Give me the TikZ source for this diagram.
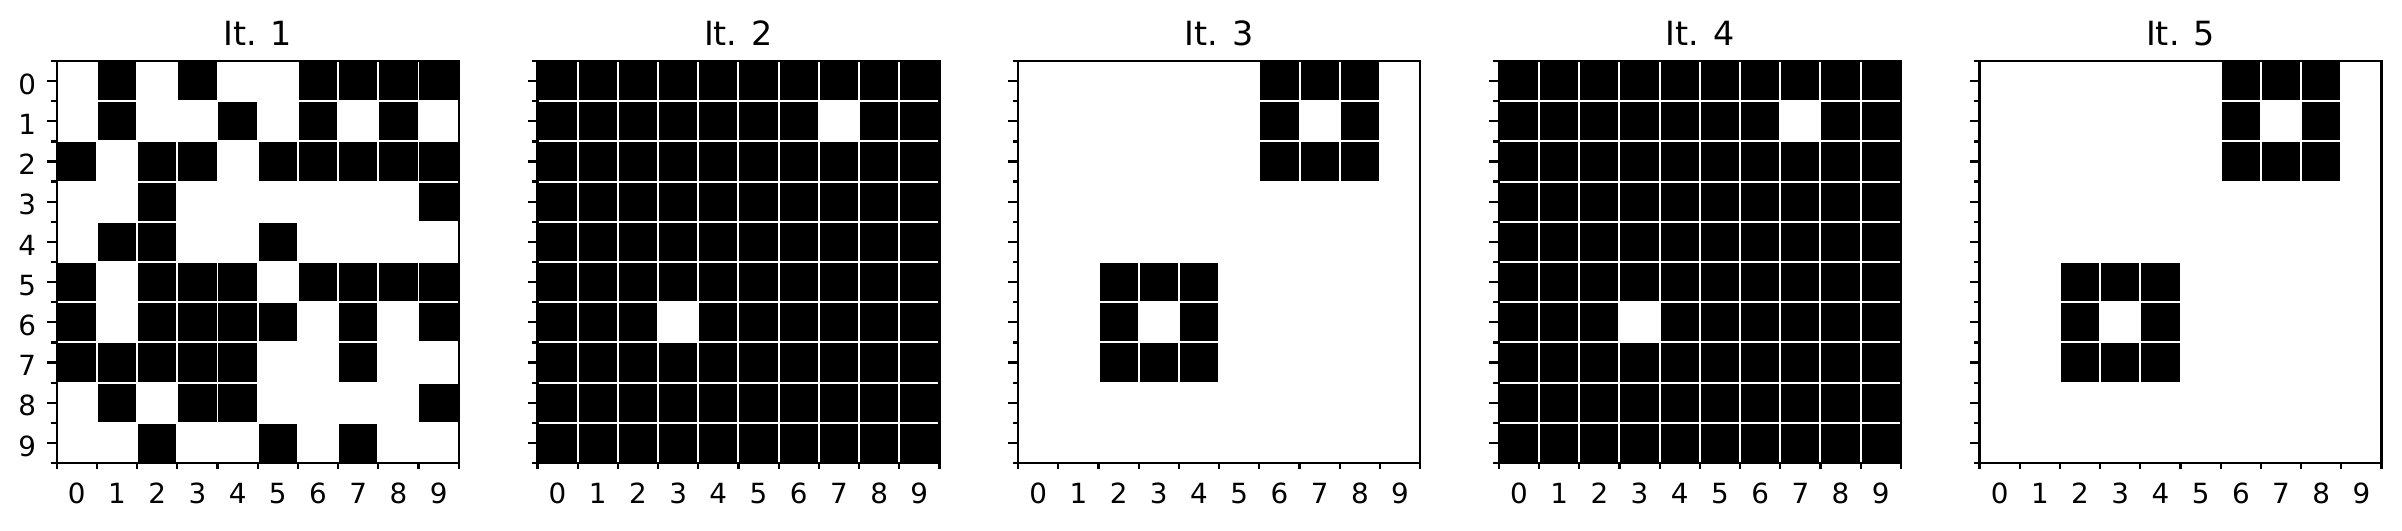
\documentclass[tikz,border=0pt]{standalone}
\usepackage{fontspec}
\setmainfont{DejaVu Sans}
\usetikzlibrary{positioning, calc}

\begin{document}
\begin{tikzpicture}[x=14.472pt, y=-14.472pt,
    cell/.style={fill=black},
    hole/.style={fill=white},
    gridline/.style={white, line width=0.7pt},
    frame/.style={black, line width=0.8pt},
    axtick/.style={black, line width=0.8pt},
    ticklabel/.style={font=\fontsize{10}{12}\selectfont, inner sep=0pt},
    paneltitle/.style={font=\fontsize{12}{14}\selectfont, inner sep=0pt}]
        \useasboundingbox (0pt,0pt) rectangle (864.72pt,-190.8pt);
%
        % It. 1
        \begin{scope}[shift={(1.4104,1.5174)}]
          \foreach \r/\cols in {0/{1,3,6,7,8,9}, 1/{1,4,6,8}, 2/{0,2,3,5,6,7,8,9},
              3/{2,9}, 4/{1,2,5}, 5/{0,2,3,4,6,7,8,9}, 6/{0,2,3,4,5,7,9},
              7/{0,1,2,3,4,7}, 8/{1,3,4,9}, 9/{2,5,7}}
            \foreach \c in \cols
              \fill[cell] (\c,\r) rectangle ++(1,1);
        \end{scope}
%
        % It. 2 and It. 4
        \foreach \p in {2,4} {
          \begin{scope}[shift={({1.4104+11.958*(\p-1)},1.5174)}]
            \fill[cell] (0,0) rectangle (10,10);
            \fill[hole] (7,1) rectangle ++(1,1);
            \fill[hole] (3,6) rectangle ++(1,1);
          \end{scope}
        }
%
        % It. 3 and It. 5
        \foreach \p in {3,5} {
          \begin{scope}[shift={({1.4104+11.958*(\p-1)},1.5174)}]
            \fill[cell] (6,0) rectangle (9,3);
            \fill[hole] (7,1) rectangle (8,2);
            \fill[cell] (2,5) rectangle (5,8);
            \fill[hole] (3,6) rectangle (4,7);
          \end{scope}
        }
%
        % grid, frame, ticks and labels
        \foreach \p in {1,...,5} {
          \begin{scope}[shift={({1.4104+11.958*(\p-1)},1.5174)}]
            \foreach \k in {1,...,9} {
              \draw[gridline] (\k,0) -- (\k,10);
              \draw[gridline] (0,\k) -- (10,\k);
            }
            \draw[frame] (0,0) rectangle (10,10);
            \foreach \k in {0,...,10} {
              \draw[axtick] (\k,10) -- (\k,10.139);
              \draw[axtick] (0,\k) -- (-0.139,\k);
            }
            \foreach \k in {0,...,9} {
              \draw[axtick] (0,\k+0.5) -- (-0.241,\k+0.5);
              \node[ticklabel, anchor=base] (xl\p\k) at (\k+0.5,11.0) {\k};
            }
            \node[paneltitle, anchor=base] (title\p) at (5,-0.381) {It. \p};
          \end{scope}
        }
%
        % row labels of the first panel
        \begin{scope}[shift={(1.4104,1.5174)}]
          \foreach \k in {0,...,9}
            \node[ticklabel, anchor=base east] (yl\k) at (-0.4975,\k+0.828) {\k};
        \end{scope}
      \end{tikzpicture}
\end{document}
